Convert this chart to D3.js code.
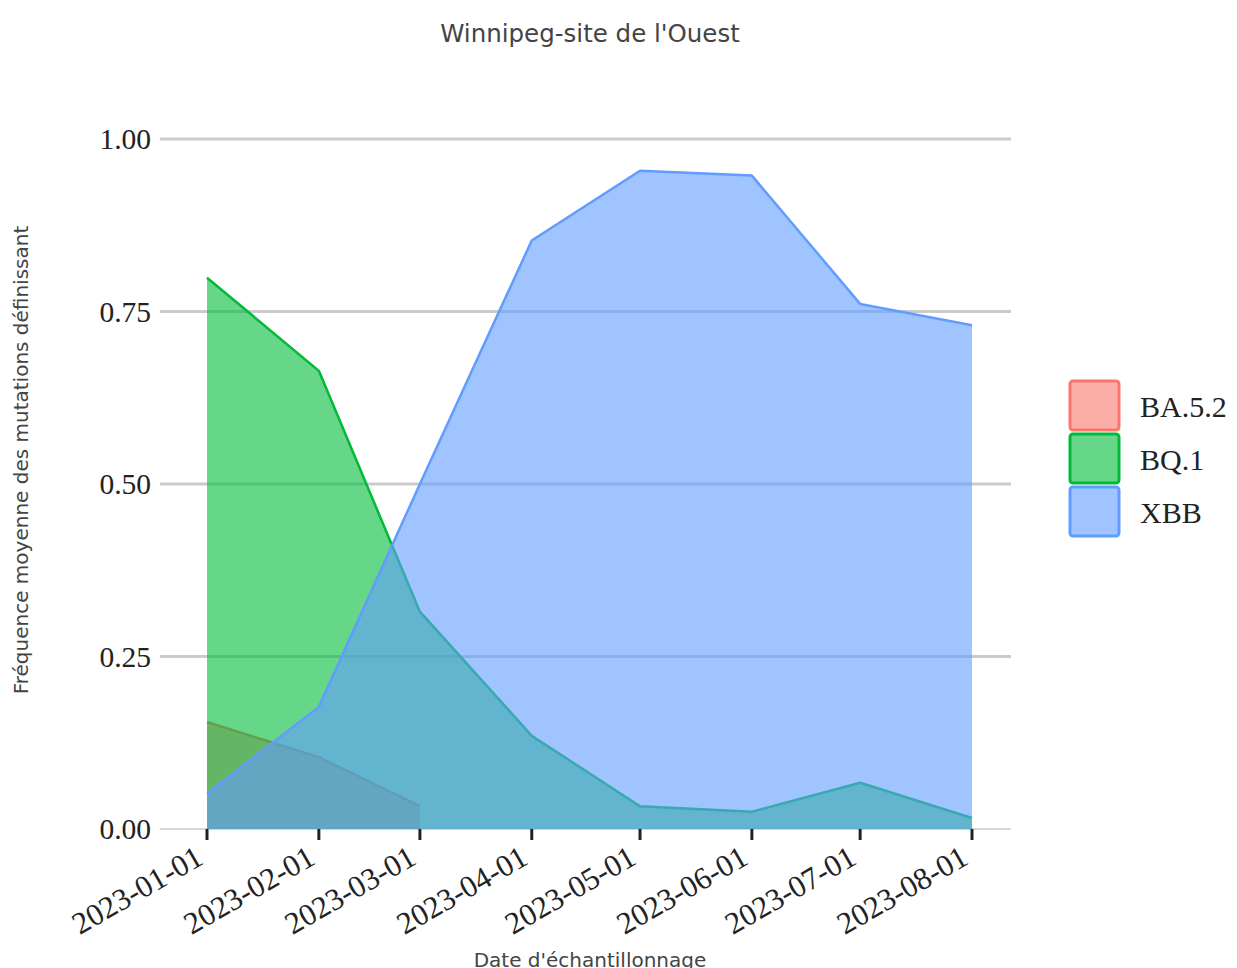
<!DOCTYPE html>
<html>
<head>
<meta charset="utf-8">
<script src="https://cdn.jsdelivr.net/npm/d3@7"></script>
<style>
  html, body { margin: 0; padding: 0; background: #fff; }
  svg { display: block; }
</style>
</head>
<body>
<svg id="chart" width="1237" height="968"></svg>
<script>
// ---- data ----
const dates = ["2023-01-01","2023-02-01","2023-03-01","2023-04-01","2023-05-01","2023-06-01","2023-07-01","2023-08-01"];
const seriesNames = ["BA.5.2", "BQ.1", "XBB"];
const ba52 = [0.155, 0.104, 0.033];           // only first three dates
const bq1  = [0.799, 0.664, 0.315, 0.135, 0.033, 0.025, 0.067, 0.016];
const xbb  = [0.051, 0.177, 0.500, 0.853, 0.954, 0.947, 0.761, 0.730];
const yTicks = [0, 0.25, 0.5, 0.75, 1.0];
const colors = ["#F8766D", "#00BA38", "#619CFF"];
const title = "Winnipeg-site de l'Ouest";
const xTitle = "Date d'échantillonnage";
const yTitle = "Fréquence moyenne des mutations définissant";

const parse = d3.timeParse("%Y-%m-%d");
const seriesValues = [ba52, bq1, xbb];
const series = seriesNames.map((name, i) => ({
  name, color: colors[i],
  points: seriesValues[i].map((v, j) => ({ date: parse(dates[j]), value: v }))
}));

const svg = d3.select("#chart");
const serif = "'Liberation Serif', 'Times New Roman', serif";
const sans = "'DejaVu Sans', sans-serif";

const x = d3.scaleTime()
  .domain([parse(dates[0]), parse(dates[dates.length - 1])])
  .range([207, 972]);
const y = d3.scaleLinear().domain([0, 1]).range([829, 139]);

// gridlines
svg.append("g").selectAll("line").data(yTicks).join("line")
  .attr("x1", 160).attr("x2", 1011)
  .attr("y1", d => y(d)).attr("y2", d => y(d))
  .attr("stroke", "#cbcbcb").attr("stroke-width", d => d === 0 ? 1.5 : 3);

// y tick labels
svg.append("g").selectAll("text").data(yTicks).join("text")
  .attr("x", 151).attr("y", d => y(d))
  .attr("dy", "0.35em")
  .attr("text-anchor", "end")
  .attr("font-family", serif)
  .attr("font-size", 29.5).attr("fill", "#222")
  .text(d3.format(".2f"));

// areas
const area = d3.area().x(d => x(d.date)).y0(y(0)).y1(d => y(d.value));
const line = d3.line().x(d => x(d.date)).y(d => y(d.value));
series.forEach(s => {
  const g = svg.append("g");
  g.append("path").datum(s.points).attr("d", area)
    .attr("fill", s.color).attr("fill-opacity", 0.6);
  g.append("path").datum(s.points).attr("d", line)
    .attr("fill", "none").attr("stroke", s.color).attr("stroke-width", 2.5)
    .attr("stroke-linejoin", "round");
});

// x axis ticks & labels
const xAxis = svg.append("g");
const tickDates = dates.map(parse);
xAxis.selectAll("line").data(tickDates).join("line")
  .attr("x1", d => x(d)).attr("x2", d => x(d))
  .attr("y1", 829).attr("y2", 840)
  .attr("stroke", "#222").attr("stroke-width", 3);
xAxis.selectAll("text").data(dates).join("text")
  .attr("transform", d => `translate(${x(parse(d)) - 2},${863}) rotate(-30)`)
  .attr("text-anchor", "end")
  .attr("font-family", serif)
  .attr("font-size", 31).attr("fill", "#222")
  .text(d => d);

// titles
svg.append("text").attr("x", 590).attr("y", 42)
  .attr("text-anchor", "middle")
  .attr("font-family", sans).attr("font-size", 24.5)
  .attr("fill", "#444").text(title);
svg.append("text").attr("x", 590).attr("y", 967)
  .attr("text-anchor", "middle")
  .attr("font-family", sans).attr("font-size", 20)
  .attr("fill", "#444").text(xTitle);
svg.append("text").attr("transform", "translate(28,460) rotate(-90)")
  .attr("text-anchor", "middle")
  .attr("font-family", sans).attr("font-size", 20)
  .attr("fill", "#444").text(yTitle);

// legend
const legend = svg.append("g");
series.forEach((s, i) => {
  const top = 381 + i * 53;
  legend.append("rect").attr("x", 1070).attr("y", top)
    .attr("width", 49).attr("height", 49).attr("rx", 3)
    .attr("fill", s.color).attr("fill-opacity", 0.6)
    .attr("stroke", s.color).attr("stroke-width", 3);
  legend.append("text").attr("x", 1140).attr("y", top + 25).attr("dy", "0.35em")
    .attr("font-family", serif)
    .attr("font-size", 30).attr("fill", "#222").text(s.name);
});
</script>
</body>
</html>
